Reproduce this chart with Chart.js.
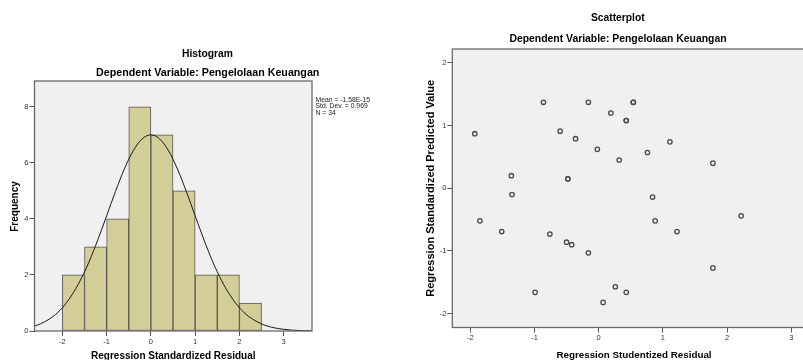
<!DOCTYPE html>
<html>
<head>
<meta charset="utf-8">
<script src="https://cdn.jsdelivr.net/npm/chart.js@4.4.1/dist/chart.umd.min.js"></script>
<style>
  html,body{margin:0;padding:0;background:#fff;overflow:hidden;width:803px;height:360px;}
  #h{position:absolute;left:0;top:0;}
  #s{position:absolute;left:400px;top:0;}
</style>
</head>
<body>
<canvas id="h" width="400" height="360"></canvas>
<canvas id="s" width="410" height="360"></canvas>
<script>
// ---------- Histogram data ----------
const binCenters = [-1.75, -1.25, -0.75, -0.25, 0.25, 0.75, 1.25, 1.75, 2.25];
const binCounts  = [2, 3, 4, 8, 7, 5, 2, 2, 1];
const curveX = [-2.7, -2.6, -2.4, -2.2, -2.0, -1.8, -1.6, -1.4, -1.2, -1.0, -0.8, -0.6, -0.4, -0.2, 0, 0.2, 0.4, 0.6, 0.8, 1.0, 1.2, 1.4, 1.6, 1.8, 2.0, 2.2, 2.4, 2.6, 2.8, 3.0, 3.2, 3.4, 3.6, 3.7];
const curveY = [0.14, 0.19, 0.33, 0.53, 0.83, 1.25, 1.79, 2.46, 3.25, 4.11, 4.98, 5.78, 6.43, 6.85, 7.00, 6.85, 6.43, 5.78, 4.98, 4.11, 3.25, 2.46, 1.79, 1.25, 0.83, 0.53, 0.33, 0.19, 0.11, 0.06, 0.03, 0.015, 0.007, 0.005];
const histXTicks = [-2, -1, 0, 1, 2, 3];
const histYTicks = [0, 2, 4, 6, 8];
const histStats = ["Mean = -1.58E-15", "Std. Dev. = 0.969", "N = 34"];

// ---------- Scatterplot data ----------
const residX = [-0.86, -0.16, 0.54, 0.54, 0.19, 0.43, 0.43, -1.93, -0.60, -0.36, 1.11, -0.02, 0.76, 0.32, 1.78, -1.36, -0.48, -0.48, -1.35, 0.84, -1.85, 2.22, 0.88, -1.51, 1.22, -0.76, -0.50, -0.42, -0.16, 1.78, -0.99, 0.26, 0.43, 0.07];
const predY  = [1.37, 1.37, 1.37, 1.37, 1.20, 1.08, 1.08, 0.87, 0.91, 0.79, 0.74, 0.62, 0.57, 0.45, 0.40, 0.20, 0.15, 0.15, -0.10, -0.14, -0.52, -0.44, -0.52, -0.69, -0.69, -0.73, -0.86, -0.90, -1.03, -1.27, -1.66, -1.57, -1.66, -1.82];
const scatXTicks = [-2, -1, 0, 1, 2, 3];
const scatYTicks = [-2, -1, 0, 1, 2];

const FONT = "'Liberation Sans', Arial, sans-serif";
Chart.defaults.font.family = FONT;

function bgFrame(fill) {
  return {
    id: 'bgFrame',
    beforeDraw(c) {
      const a = c.chartArea, ctx = c.ctx;
      ctx.save(); ctx.fillStyle = fill;
      ctx.fillRect(a.left, a.top, a.right - a.left, a.bottom - a.top);
      ctx.restore();
    },
    afterDraw(c) {
      const a = c.chartArea, ctx = c.ctx;
      ctx.save(); ctx.strokeStyle = '#6a6a6a'; ctx.lineWidth = 1.3;
      ctx.strokeRect(a.left, a.top, a.right - a.left, a.bottom - a.top);
      ctx.restore();
    }
  };
}

function textPlugin(items) {
  return {
    id: 'texts',
    afterDraw(c) {
      const ctx = c.ctx;
      items.forEach(t => {
        ctx.save();
        ctx.font = t.font; ctx.fillStyle = t.color || '#000';
        ctx.textAlign = t.align || 'center'; ctx.textBaseline = 'alphabetic';
        ctx.translate(t.x, t.y);
        if (t.rot) ctx.rotate(t.rot);
        ctx.fillText(t.text, 0, 0);
        ctx.restore();
      });
    }
  };
}

function fixTicks(list) {
  return s => { s.ticks = list.map(v => ({ value: v })); };
}

const tickFont = { size: 7.5, family: FONT };
const tickColor = '#333';

// ---------- Histogram ----------
new Chart(document.getElementById('h'), {
  type: 'bar',
  data: {
    datasets: [
      {
        type: 'line',
        data: curveX.map((x, i) => ({ x: x, y: curveY[i] })),
        borderColor: '#1a1a1a', borderWidth: 1, pointRadius: 0,
        cubicInterpolationMode: 'monotone', fill: false, order: 0
      },
      {
        type: 'bar',
        data: binCenters.map((x, i) => ({ x: x, y: binCounts[i] })),
        backgroundColor: '#D3CE97', borderColor: '#555', borderWidth: 1,
        borderSkipped: false, barPercentage: 1, categoryPercentage: 1, order: 1
      }
    ]
  },
  options: {
    responsive: false, animation: false, devicePixelRatio: 1,
    layout: { padding: { top: 81, right: 88, bottom: 0, left: 0 } },
    plugins: { legend: { display: false }, tooltip: { enabled: false } },
    scales: {
      x: {
        type: 'linear', min: -2.63, max: 3.64, offset: false,
        afterBuildTicks: fixTicks(histXTicks),
        afterFit: s => { s.height = 29; },
        border: { display: false },
        grid: { offset: false, drawOnChartArea: false, drawTicks: true, tickLength: 5, color: '#555' },
        ticks: { font: tickFont, color: tickColor, padding: 1, maxRotation: 0 }
      },
      y: {
        type: 'linear', min: 0, max: 8.92,
        afterBuildTicks: fixTicks(histYTicks),
        afterFit: s => { s.width = 34.5; },
        border: { display: false },
        grid: { drawOnChartArea: false, drawTicks: true, tickLength: 5, color: '#555' },
        ticks: { font: tickFont, color: tickColor, padding: 1 }
      }
    }
  },
  plugins: [bgFrame('#F0F0F0'), textPlugin([
    { text: 'Histogram', x: 207.5, y: 57.3, font: 'bold 10.3px ' + FONT },
    { text: 'Dependent Variable: Pengelolaan Keuangan', x: 207.7, y: 75.5, font: 'bold 10.7px ' + FONT },
    { text: 'Frequency', x: 18, y: 206.5, rot: -Math.PI / 2, font: 'bold 10px ' + FONT },
    { text: 'Regression Standardized Residual', x: 173.3, y: 359, font: 'bold 10px ' + FONT },
    { text: histStats[0], x: 315.5, y: 101.7, align: 'left', font: '6.8px ' + FONT, color: '#222' },
    { text: histStats[1], x: 315.5, y: 108.4, align: 'left', font: '6.8px ' + FONT, color: '#222' },
    { text: histStats[2], x: 315.5, y: 115.2, align: 'left', font: '6.8px ' + FONT, color: '#222' }
  ])]
});

// ---------- Scatterplot ----------
new Chart(document.getElementById('s'), {
  type: 'scatter',
  data: {
    datasets: [{
      data: residX.map((x, i) => ({ x: x, y: predY[i] })),
      pointStyle: 'circle', pointRadius: 2.2, borderWidth: 1.3,
      borderColor: '#4a4a4a', backgroundColor: 'rgba(0,0,0,0)'
    }]
  },
  options: {
    responsive: false, animation: false, devicePixelRatio: 1,
    layout: { padding: { top: 49, right: 0, bottom: 0, left: 0 } },
    plugins: { legend: { display: false }, tooltip: { enabled: false } },
    scales: {
      x: {
        type: 'linear', min: -2.28, max: 3.21,
        afterBuildTicks: fixTicks(scatXTicks),
        afterFit: s => { s.height = 32.5; },
        border: { display: false },
        grid: { drawOnChartArea: false, drawTicks: true, tickLength: 5, color: '#555' },
        ticks: { font: tickFont, color: tickColor, padding: 1, maxRotation: 0 }
      },
      y: {
        type: 'linear', min: -2.22, max: 2.22,
        afterBuildTicks: fixTicks(scatYTicks),
        afterFit: s => { s.width = 52.3; },
        border: { display: false },
        grid: { drawOnChartArea: false, drawTicks: true, tickLength: 5, color: '#555' },
        ticks: { font: tickFont, color: tickColor, padding: 1 }
      }
    }
  },
  plugins: [bgFrame('#F0F0F0'), textPlugin([
    { text: 'Scatterplot', x: 217.8, y: 20.5, font: 'bold 10.3px ' + FONT },
    { text: 'Dependent Variable: Pengelolaan Keuangan', x: 218, y: 42.3, font: 'bold 10.4px ' + FONT },
    { text: 'Regression Standardized Predicted Value', x: 33.7, y: 188.3, rot: -Math.PI / 2, font: 'bold 11px ' + FONT },
    { text: 'Regression Studentized Residual', x: 234, y: 357.5, font: 'bold 9.8px ' + FONT }
  ])]
});
</script>
</body>
</html>
